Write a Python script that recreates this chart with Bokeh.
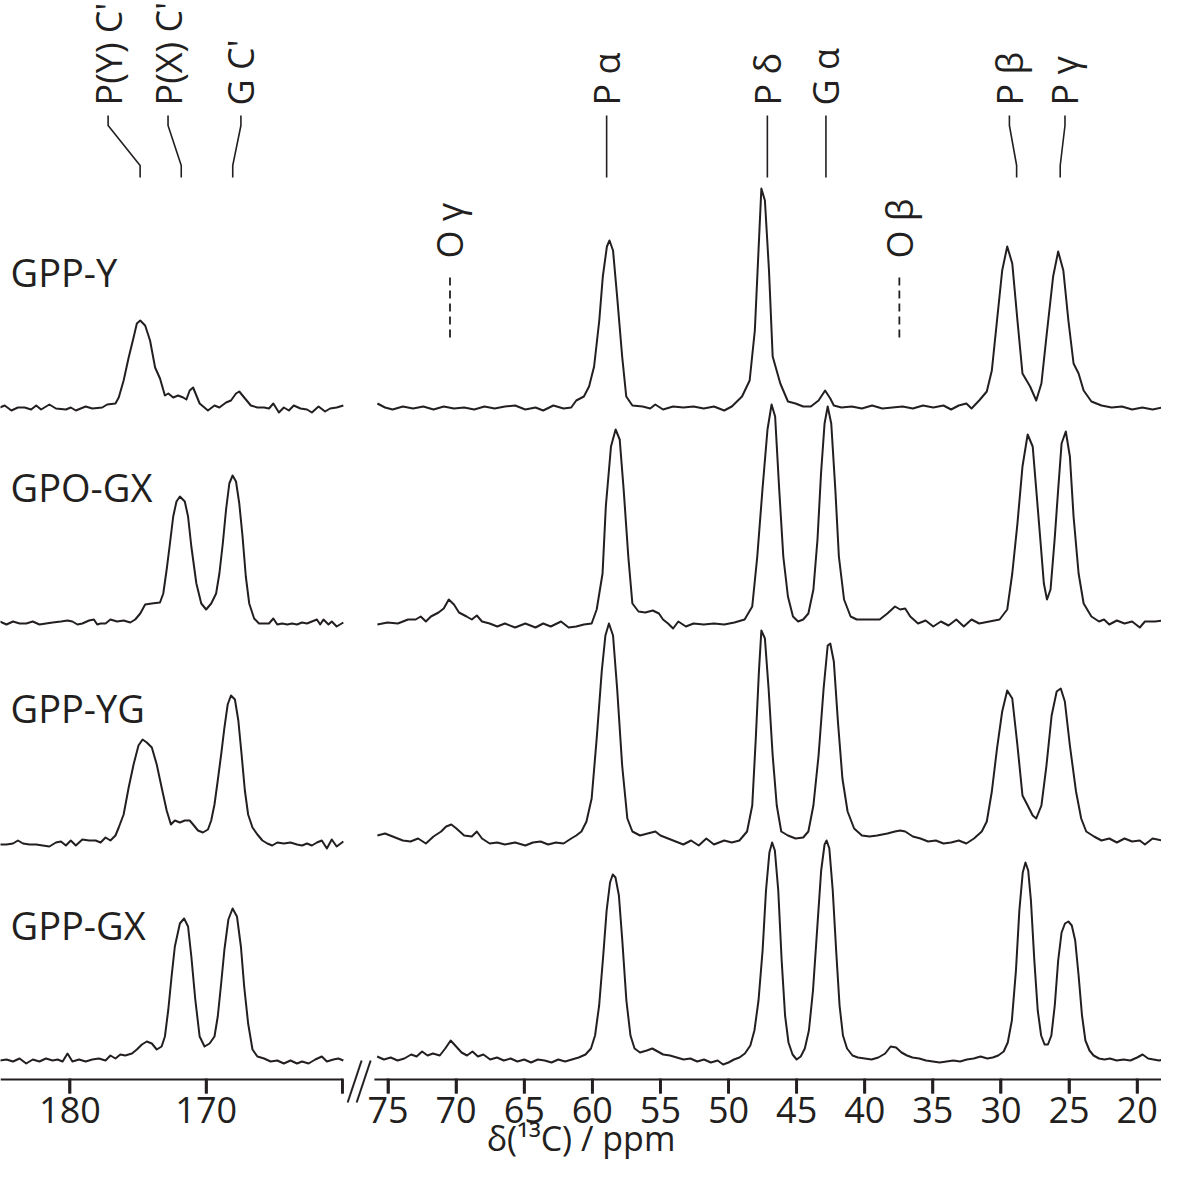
import numpy as np
from bokeh.plotting import figure
from bokeh.models import Range1d, FixedTicker
from bokeh.core.properties import value
from bokeh.embed import file_html
from bokeh.resources import INLINE

# ------------------------------------------------------------------ data
SAMPLES = ["GPP-Y", "GPO-GX", "GPP-YG", "GPP-GX"]

# carbonyl window: (ppm, intensity a.u.)
GPPY_CO = [(185.15, 0), (184.79, 2), (184.30, -3), (183.82, 0), (183.33, 0), (182.85, -2), (182.48, 2),
           (182.12, -2), (181.51, 3), (181.03, -1), (180.30, -2), (179.94, 0), (179.57, -3), (178.85, 1),
           (178.36, -1), (177.63, 0), (177.27, 3), (176.66, 4), (176.42, 10), (176.06, 27), (175.69, 50),
           (175.33, 70), (175.09, 84), (174.84, 87), (174.48, 82), (174.12, 67), (173.75, 40), (173.39, 29),
           (173.03, 12), (172.78, 14), (172.42, 10), (172.06, 12), (171.69, 10), (171.45, 8), (171.21, 17),
           (170.96, 20), (170.72, 12), (170.48, 4), (169.87, -3), (169.39, 2), (169.03, 0), (168.54, 5),
           (168.18, 7), (167.81, 14), (167.57, 16), (167.21, 10), (166.72, 2), (166.24, 0), (165.75, 0),
           (165.39, -1), (165.07, 4), (164.66, -5), (164.30, 0), (163.93, -3), (163.57, 2), (163.08, -1),
           (162.60, -2), (162.24, -5), (161.75, 1), (161.27, -4), (160.90, -1), (160.42, 0), (159.93, 2)]
GPOGX_CO = [(185.15, 1), (184.66, -2), (184.18, 1), (183.70, -1), (183.21, -1), (182.73, 1), (182.24, -2),
            (181.76, -1), (181.27, 0), (180.66, 1), (180.18, 2), (179.82, 1), (179.45, -2), (179.09, -1),
            (178.60, 2), (178.24, 3), (178.00, -2), (177.75, -1), (177.39, -1), (177.03, 3), (176.54, 1),
            (176.06, 2), (175.57, 0), (175.21, 3), (174.84, 9), (174.48, 18), (174.00, 19), (173.39, 20),
            (173.15, 29), (172.90, 53), (172.66, 79), (172.42, 106), (172.18, 121), (171.93, 126),
            (171.57, 121), (171.33, 106), (171.09, 76), (170.72, 39), (170.36, 19), (170.00, 13),
            (169.63, 19), (169.27, 29), (169.03, 49), (168.78, 79), (168.54, 113), (168.30, 139),
            (168.06, 147), (167.81, 141), (167.57, 119), (167.33, 86), (167.09, 46), (166.84, 19),
            (166.48, 4), (166.12, -1), (165.75, -1), (165.39, -1), (165.07, 4), (164.78, -2), (164.42, -1),
            (164.05, -2), (163.69, -1), (163.33, -2), (162.96, 0), (162.60, -1), (162.24, 1), (161.87, 3),
            (161.63, -2), (161.39, 3), (161.02, -2), (160.78, 1), (160.42, -4), (159.93, 0)]
GPPYG_CO = [(185.15, -1), (184.66, -1), (184.18, 0), (183.82, 3), (183.45, 0), (182.97, -1), (182.48, -1),
            (182.00, -2), (181.51, -3), (181.03, 1), (180.66, 2), (180.30, -2), (179.94, 3), (179.57, -2),
            (179.09, 4), (178.60, 3), (178.12, 3), (177.75, 1), (177.39, 6), (177.03, 3), (176.66, 8),
            (176.42, 16), (176.06, 29), (175.69, 56), (175.33, 79), (174.97, 98), (174.67, 104),
            (174.36, 101), (173.99, 96), (173.63, 79), (173.27, 56), (172.90, 33), (172.59, 19),
            (172.30, 23), (171.93, 21), (171.57, 23), (171.21, 23), (170.96, 19), (170.60, 13), (170.24, 11),
            (169.87, 14), (169.63, 23), (169.39, 39), (169.15, 63), (168.90, 89), (168.66, 116),
            (168.42, 139), (168.18, 148), (167.89, 144), (167.64, 123), (167.40, 89), (167.16, 53),
            (166.92, 29), (166.60, 16), (166.24, 9), (165.87, 3), (165.51, 0), (165.15, -2), (164.78, 1),
            (164.30, 0), (163.81, 1), (163.33, -1), (162.96, -2), (162.60, 0), (162.24, -2), (161.87, 1),
            (161.51, 3), (161.14, -5), (160.78, 4), (160.42, -3), (159.93, 2)]
GPPGX_CO = [(185.15, 0), (184.66, 1), (184.18, -1), (183.70, 2), (183.21, -3), (182.73, 1), (182.24, -1),
            (181.76, 2), (181.27, 0), (180.91, 1), (180.54, -1), (180.18, 7), (179.82, -1), (179.33, 1),
            (178.85, -1), (178.36, 1), (177.88, 2), (177.39, 0), (177.03, 5), (176.66, 2), (176.30, 6),
            (175.94, 5), (175.45, 7), (175.09, 11), (174.72, 16), (174.36, 19), (173.99, 17), (173.63, 11),
            (173.27, 14), (173.03, 24), (172.78, 51), (172.54, 84), (172.30, 114), (171.93, 137),
            (171.62, 142), (171.33, 134), (171.09, 104), (170.80, 61), (170.48, 24), (170.12, 14),
            (169.75, 17), (169.39, 24), (169.15, 44), (168.90, 77), (168.66, 111), (168.37, 141),
            (168.06, 152), (167.74, 144), (167.45, 114), (167.21, 74), (166.92, 37), (166.60, 11),
            (166.24, 4), (165.75, 2), (165.27, -1), (164.78, 0), (164.30, -3), (163.81, 0), (163.33, -3),
            (162.96, -1), (162.48, -3), (161.99, 1), (161.51, 4), (161.14, -1), (160.66, 1), (160.30, 2),
            (159.93, 0)]

# aliphatic window: (ppm, intensity a.u.)
GPPY_ALI = [(75.78, 4), (75.22, 0), (74.66, -2), (73.91, 1), (73.16, -1), (72.41, 1), (71.66, -2),
            (70.91, 1), (70.16, -1), (69.41, 0), (68.67, -2), (67.92, 1), (67.17, -1), (66.42, 1),
            (65.67, 2), (64.92, -2), (64.17, 0), (63.61, -3), (62.86, 2), (62.11, -1), (61.55, 0),
            (61.18, 7), (60.62, 11), (60.24, 21), (59.87, 41), (59.49, 87), (59.23, 131), (58.93, 161),
            (58.74, 167), (58.48, 157), (58.18, 111), (57.81, 51), (57.51, 11), (57.06, 2), (56.31, 1),
            (55.75, -1), (55.38, 3), (54.81, -2), (54.07, 1), (53.32, 0), (52.57, 1), (51.82, -1),
            (51.07, 1), (50.32, -3), (49.76, 1), (49.01, 11), (48.45, 27), (48.07, 77), (47.81, 154),
            (47.59, 219), (47.33, 207), (47.03, 137), (46.76, 51), (46.20, 24), (45.64, 6), (45.08, 4),
            (44.52, 1), (43.96, 1), (43.39, 7), (42.91, 17), (42.53, 9), (42.27, 2), (41.71, 0),
            (40.96, 1), (40.21, -1), (39.46, 2), (38.71, -1), (37.97, 0), (37.22, 1), (36.47, -1),
            (35.72, 2), (34.97, 0), (34.22, 2), (33.66, -2), (33.10, 2), (32.54, 4), (32.16, -1),
            (31.60, 7), (31.04, 16), (30.67, 37), (30.29, 87), (29.91, 137), (29.54, 161), (29.17, 144),
            (28.79, 87), (28.42, 34), (27.86, 21), (27.41, 7), (27.03, 24), (26.66, 71), (26.17, 131),
            (25.80, 156), (25.42, 137), (25.05, 87), (24.67, 44), (24.30, 34), (23.93, 17), (23.36, 6),
            (22.62, 2), (21.87, 0), (21.12, 1), (20.37, -2), (19.62, 0), (18.87, -2), (18.12, 0)]
GPOGX_ALI = [(75.78, -2), (75.03, 0), (74.28, -1), (73.53, 3), (72.97, 3), (72.60, 6), (72.22, 1),
             (71.85, 6), (71.29, 10), (70.91, 14), (70.54, 23), (70.16, 18), (69.79, 10), (69.23, 6),
             (68.85, 3), (68.48, 7), (68.10, 1), (67.54, -1), (66.98, -4), (66.42, -1), (65.67, -5),
             (64.92, -1), (64.17, -5), (63.61, -1), (63.05, -4), (62.30, 1), (61.74, -5), (61.18, -4),
             (60.62, -2), (60.05, -1), (59.68, 13), (59.25, 49), (59.01, 116), (58.63, 176), (58.29, 193),
             (57.99, 183), (57.70, 133), (57.36, 66), (57.06, 19), (56.61, 11), (56.12, 10), (55.56, 12),
             (55.11, 9), (54.81, 3), (54.44, -1), (54.07, -6), (53.69, 1), (53.13, -4), (52.57, -1),
             (51.82, -2), (51.07, -1), (50.32, -2), (49.57, 0), (48.82, 3), (48.26, 16), (47.89, 66),
             (47.51, 133), (47.14, 193), (46.84, 218), (46.58, 206), (46.28, 133), (45.98, 66), (45.64, 26),
             (45.27, 6), (44.89, 1), (44.52, 3), (44.14, 9), (43.77, 33), (43.47, 83), (43.21, 149),
             (42.95, 199), (42.72, 216), (42.46, 199), (42.16, 133), (41.90, 66), (41.52, 23), (41.04, 6),
             (40.59, 3), (40.03, 3), (39.46, 3), (38.90, 3), (38.34, 9), (37.78, 16), (37.40, 13),
             (37.03, 14), (36.66, 6), (36.09, -1), (35.53, 2), (34.97, -4), (34.41, 1), (33.85, -3),
             (33.28, 3), (32.73, -4), (32.16, 3), (31.60, -1), (30.85, 1), (30.10, 3), (29.54, 13),
             (29.17, 49), (28.79, 99), (28.42, 156), (28.04, 188), (27.67, 176), (27.41, 133), (27.11, 83),
             (26.85, 39), (26.62, 23), (26.36, 33), (26.06, 83), (25.80, 133), (25.55, 179), (25.24, 191),
             (24.94, 166), (24.67, 106), (24.30, 49), (23.93, 19), (23.36, 6), (22.80, 1), (22.43, 3),
             (22.05, -2), (21.49, 2), (20.93, -1), (20.37, 1), (19.81, -5), (19.43, 1), (18.68, 1),
             (18.12, 2)]
GPPYG_ALI = [(75.78, 8), (75.22, 10), (74.66, 7), (73.91, 3), (73.35, 2), (72.79, 5), (72.22, 0),
             (71.66, 7), (71.10, 12), (70.73, 17), (70.35, 19), (69.98, 15), (69.41, 8), (68.85, 7),
             (68.48, 12), (68.10, 5), (67.54, 0), (66.98, 1), (66.42, -1), (65.67, 1), (64.92, -2),
             (64.36, 1), (63.80, 2), (63.24, -1), (62.68, 1), (62.11, 0), (61.55, 5), (61.18, 8),
             (60.80, 12), (60.43, 22), (60.05, 45), (59.68, 105), (59.31, 172), (59.04, 208), (58.78, 220),
             (58.48, 208), (58.18, 155), (57.81, 78), (57.43, 25), (57.06, 12), (56.50, 8), (55.94, 10),
             (55.37, 12), (55.00, 8), (54.44, 5), (53.88, 2), (53.32, -1), (52.75, 3), (52.19, -2),
             (51.63, 5), (51.07, -1), (50.32, 3), (49.76, 1), (49.20, 3), (48.64, 12), (48.26, 38),
             (48.00, 105), (47.77, 172), (47.59, 213), (47.33, 205), (47.06, 155), (46.76, 88), (46.46, 38),
             (46.13, 12), (45.64, 8), (45.08, 5), (44.52, 6), (44.14, 12), (43.77, 38), (43.39, 88),
             (43.02, 155), (42.72, 198), (42.53, 200), (42.27, 182), (41.97, 122), (41.64, 65), (41.26, 32),
             (40.78, 15), (40.21, 8), (39.65, 7), (39.09, 8), (38.34, 10), (37.78, 12), (37.40, 13),
             (37.03, 12), (36.47, 7), (35.91, 5), (35.35, 2), (34.78, 3), (34.22, 0), (33.66, 1),
             (33.10, 3), (32.54, 0), (31.98, 5), (31.41, 12), (31.04, 22), (30.67, 52), (30.29, 95),
             (29.91, 132), (29.54, 153), (29.17, 145), (28.79, 98), (28.42, 48), (28.04, 38), (27.67, 28),
             (27.41, 25), (27.03, 38), (26.66, 78), (26.28, 128), (25.91, 152), (25.61, 155), (25.31, 142),
             (24.94, 98), (24.49, 52), (24.11, 25), (23.74, 12), (23.17, 7), (22.62, 3), (22.05, 5),
             (21.49, 1), (20.93, 5), (20.37, 2), (19.81, 3), (19.43, -1), (18.87, 5), (18.12, 3)]
GPPGX_ALI = [(75.8, 4), (75.3, 1), (74.8, 3), (74.3, 0), (73.8, 2), (73.3, 6), (72.9, 4), (72.5, 9),
             (72.1, 5), (71.7, 7), (71.2, 5), (70.8, 12), (70.4, 20), (70.0, 14), (69.6, 8), (69.2, 5),
             (68.8, 9), (68.4, 4), (68.0, 6), (67.5, 1), (67.0, 3), (66.5, 0), (66.0, 2), (65.5, -1),
             (65.0, 1), (64.5, -2), (64.0, 1), (63.5, 0), (63.0, -2), (62.5, 1), (62.0, -1), (61.5, 1),
             (61.0, 3), (60.5, 6), (60.1, 12), (59.8, 25), (59.5, 55), (59.2, 105), (58.95, 150),
             (58.7, 178), (58.5, 186), (58.3, 183), (58.05, 165), (57.8, 120), (57.5, 60), (57.2, 25),
             (56.9, 12), (56.5, 8), (56.0, 10), (55.6, 12), (55.2, 9), (54.8, 6), (54.3, 5), (53.8, 3),
             (53.3, 1), (52.8, 2), (52.3, -1), (51.8, 1), (51.3, -2), (50.8, 0), (50.4, -4), (50.0, -2),
             (49.6, 1), (49.2, 3), (48.8, 7), (48.4, 15), (48.1, 30), (47.8, 60), (47.5, 110),
             (47.25, 170), (47.0, 208), (46.8, 218), (46.6, 210), (46.35, 170), (46.1, 100), (45.85, 45),
             (45.6, 18), (45.3, 6), (45.0, 1), (44.7, 4), (44.4, 12), (44.1, 30), (43.8, 70), (43.5, 130),
             (43.2, 190), (42.95, 216), (42.8, 220), (42.6, 212), (42.35, 170), (42.1, 110), (41.85, 55),
             (41.6, 25), (41.3, 12), (40.9, 5), (40.5, 3), (40.0, 2), (39.5, 1), (39.0, 3), (38.5, 7),
             (38.1, 14), (37.7, 13), (37.3, 8), (36.9, 5), (36.5, 3), (36.0, 2), (35.5, 0), (35.0, -1),
             (34.5, -2), (34.0, -1), (33.5, 0), (33.0, -1), (32.5, 1), (32.0, 2), (31.5, 4), (31.0, 2),
             (30.6, 3), (30.2, 5), (29.8, 9), (29.5, 18), (29.2, 40), (28.9, 90), (28.65, 150),
             (28.4, 188), (28.2, 198), (28.0, 190), (27.8, 160), (27.55, 100), (27.3, 50), (27.05, 25),
             (26.8, 16), (26.55, 16), (26.3, 25), (26.05, 55), (25.8, 100), (25.55, 128), (25.3, 137),
             (25.05, 139), (24.8, 135), (24.55, 120), (24.3, 85), (24.05, 45), (23.8, 20), (23.5, 10),
             (23.2, 5), (22.8, 2), (22.4, 1), (22.0, 2), (21.5, 0), (21.0, 1), (20.5, 0), (20.0, 3),
             (19.6, 6), (19.2, 2), (18.8, 1), (18.4, 0), (18.0, 1)]

SPECTRA_CO = [GPPY_CO, GPOGX_CO, GPPYG_CO, GPPGX_CO]
SPECTRA_ALI = [GPPY_ALI, GPOGX_ALI, GPPYG_ALI, GPPGX_ALI]

TICKS_CO = [180, 170, 160]
TICK_LABELS_CO = ["180", "170", ""]
TICKS_ALI = [75, 70, 65, 60, 55, 50, 45, 40, 35, 30, 25, 20]
TICK_LABELS_ALI = ["75", "70", "65", "60", "55", "50", "45", "40", "35", "30", "25", "20"]

PEAK_LABELS = ["P(Y) C'", "P(X) C'", "G C'", "P α", "P δ", "G α", "P β", "P γ"]
PEAK_LABEL_PPM = [177.2, 172.8, 167.45, 58.95, 47.15, 42.85, 29.38, 25.3]
PEAK_LINE_PPM = [174.85, 171.83, 168.05, 58.95, 47.15, 42.85, 28.85, 25.65]
MINOR_LABELS = ["O γ", "O β"]
MINOR_LABEL_PPM = [70.45, 37.46]
AXIS_TITLE = "δ(¹³C) / ppm"

# ------------------------------------------------------------------ layout
FONT = "Open Sans"
INK = "#231f20"
SHIFT = 81.65           # display shift of the carbonyl window next to the aliphatic one
CO_END = 160.0          # carbonyl window low edge (axis stops here)
ALI_START = 76.0        # aliphatic window high edge (axis restarts here)
W, H = 1161, 1166
PPM_PX = 13.621         # pixels per ppm
X0 = 103.45
X1 = X0 - W / PPM_PX
PXU = 1.0 / PPM_PX
Y_BOT, Y_TOP = -87, 1079   # 1 unit = 1 px, axis line at 0
OFFSETS = [672, 457, 236, 19]
TICK_LEN = 14


def disp(ppm):
    return ppm - SHIFT if ppm > 100 else ppm


p = figure(width=W, height=H, x_range=Range1d(X0, X1), y_range=Range1d(Y_BOT, Y_TOP),
           output_backend="svg", toolbar_location=None, y_axis_location=None, title=None,
           min_border_left=0, min_border_right=0, min_border_top=0, min_border_bottom=0,
           outline_line_color=None)
p.grid.visible = False
p.background_fill_color = "white"

# spectra
for off, co, ali in zip(OFFSETS, SPECTRA_CO, SPECTRA_ALI):
    for seg in (co, ali):
        xs = [disp(a) for a, _ in seg]
        ys = [b + off for _, b in seg]
        p.line(xs, ys, line_color=INK, line_width=2.0, line_join="round")

# sample names
p.text(x=[X0 - 10 * PXU] * len(SAMPLES), y=[o + 136 for o in OFFSETS], text=SAMPLES,
       text_font=value(FONT), text_font_size="38px", text_color=INK,
       text_align="left", text_baseline="alphabetic")

# peak assignment labels with leader lines
TXT_Y, L_TOP, L_E1, L_E2, L_BOT = 974, 964, 954, 914, 902
p.text(x=[disp(v) for v in PEAK_LABEL_PPM], y=[TXT_Y] * len(PEAK_LABELS), text=PEAK_LABELS,
       angle=np.pi / 2, text_font=value(FONT), text_font_size="36px", text_color=INK,
       text_align="left", text_baseline="middle")
p.multi_line(xs=[[disp(a), disp(a), disp(b), disp(b)] for a, b in zip(PEAK_LABEL_PPM, PEAK_LINE_PPM)],
             ys=[[L_TOP, L_E1, L_E2, L_BOT]] * len(PEAK_LABELS), line_color=INK, line_width=1.6)

p.text(x=MINOR_LABEL_PPM, y=[821] * 2, text=MINOR_LABELS, angle=np.pi / 2,
       text_font=value(FONT), text_font_size="36px", text_color=INK,
       text_align="left", text_baseline="middle")
p.multi_line(xs=[[v, v] for v in MINOR_LABEL_PPM], ys=[[802, 741]] * 2, line_color=INK,
             line_width=1.8, line_dash="8 5")

# broken x axis, drawn inside the frame at y = 0
ax = p.xaxis[0]
ax.fixed_location = 0
tick_u = [float(disp(t)) for t in TICKS_CO] + [float(t) for t in TICKS_ALI]
tick_l = TICK_LABELS_CO + TICK_LABELS_ALI
ax.ticker = FixedTicker(ticks=list(tick_u), minor_ticks=[])
ax.major_label_overrides = {t: l for t, l in zip(tick_u, tick_l)}
ax.axis_line_color = None
ax.major_tick_out = TICK_LEN
ax.major_tick_in = 0
ax.minor_tick_out = 0
ax.minor_tick_in = 0
ax.major_tick_line_color = INK
ax.major_tick_line_width = 2.5
ax.major_label_text_font = FONT
ax.major_label_text_font_size = "36px"
ax.major_label_text_color = INK
ax.major_label_standoff = 3
ax.axis_label = AXIS_TITLE
ax.axis_label_text_font = FONT
ax.axis_label_text_font_size = "34px"
ax.axis_label_text_font_style = "normal"
ax.axis_label_text_color = INK
ax.axis_label_standoff = -11
try:
    ax.background_fill_color = None
except Exception:
    pass

# axis line pieces, tick marks and the break symbol
p.segment(x0=[X0, ALI_START], y0=[0, 0], x1=[CO_END - SHIFT, X1], y1=[0, 0],
          line_color=INK, line_width=2)
tick_q = p.quad(left=[u + 1.4 * PXU for u in tick_u], right=[u - 1.4 * PXU for u in tick_u],
                top=[1.0] * len(tick_u), bottom=[-float(TICK_LEN)] * len(tick_u),
                fill_color=INK, line_color=None)
tick_q.level = "overlay"
BRK = 77.12
bc = [BRK + 4.5 * PXU, BRK - 4.5 * PXU]
p.segment(x0=[c + 7 * PXU for c in bc], y0=[-23, -23], x1=[c - 7 * PXU for c in bc], y1=[19, 19],
          line_color=INK, line_width=2)

open("out.html", "w").write(file_html(p, INLINE))
